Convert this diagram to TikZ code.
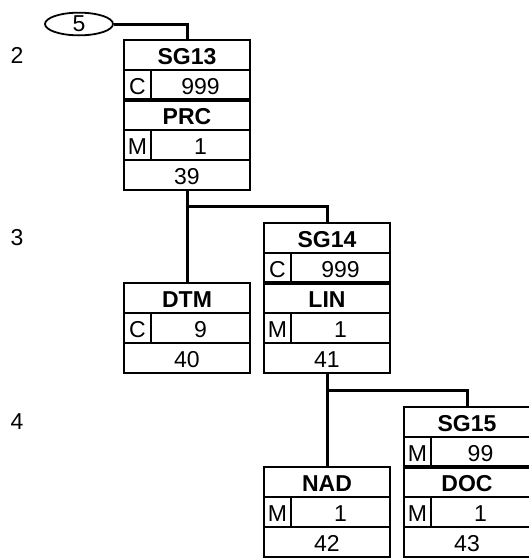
\documentclass[tikz,border=0pt]{standalone}
\usepackage{fontspec}
\setsansfont{Liberation Sans}
\usepackage{tikz}
\usetikzlibrary{positioning,shapes.geometric}
\tikzset{
    font=\sffamily\fontsize{23}{23}\selectfont,
    %Define style for the rows of a box
    zeile/.style={
           rectangle,
           draw=black, line width=2.4pt,
           minimum width=126pt,
           minimum height=30pt,
           text depth=0pt, text height=18pt,
           inner sep=0pt, outer sep=0pt},
    kopf/.style={zeile, font=\sffamily\bfseries\fontsize{23}{23}\selectfont},
    % cells of the status rows
    kenn/.style={zeile, minimum width=27pt},
    wert/.style={zeile, minimum width=99pt},
    % Define line styles
    linie/.style={line width=3pt},
    trenn/.style={line width=4pt},
    ebene/.style={inner sep=0pt},
    marke/.style={ellipse, draw=black, line width=1.8pt, minimum width=68pt, minimum height=18pt, inner sep=0pt}
}

\begin{document}
\begin{tikzpicture}[node distance=0pt]
  \useasboundingbox (0,0) rectangle (528pt,-560pt);
  % level 2
  \node[marke] (m5) at (79pt,-24pt) {5};
  \node[kopf] (sg13) at (187pt,-55pt) {SG13};
  \node[kenn] (sg13k) [below right=of sg13.south west] {C};
  \node[wert] (sg13w) [right=of sg13k] {999};
  \node[kopf] (prc) [below left=of sg13w.south east] {PRC};
  \node[kenn] (prck) [below right=of prc.south west] {M};
  \node[wert] (prcw) [right=of prck] {1};
  \node[zeile] (n39) [below left=of prcw.south east] {39};
  \draw[trenn] (prc.north west) -- (prc.north east);
  % level 3
  \node[kopf] (sg14) [below right=33pt and 14pt of n39.south east] {SG14};
  \node[kenn] (sg14k) [below right=of sg14.south west] {C};
  \node[wert] (sg14w) [right=of sg14k] {999};
  \node[kopf] (lin) [below left=of sg14w.south east] {LIN};
  \node[kenn] (link) [below right=of lin.south west] {M};
  \node[wert] (linw) [right=of link] {1};
  \node[zeile] (n41) [below left=of linw.south east] {41};
  \draw[trenn] (lin.north west) -- (lin.north east);
  \node[kopf] (dtm) [left=14pt of lin] {DTM};
  \node[kenn] (dtmk) [below right=of dtm.south west] {C};
  \node[wert] (dtmw) [right=of dtmk] {9};
  \node[zeile] (n40) [below left=of dtmw.south east] {40};
  % level 4
  \node[kopf] (sg15) [below right=34pt and 14pt of n41.south east] {SG15};
  \node[kenn] (sg15k) [below right=of sg15.south west] {M};
  \node[wert] (sg15w) [right=of sg15k] {99};
  \node[kopf] (doc) [below left=of sg15w.south east] {DOC};
  \node[kenn] (dock) [below right=of doc.south west] {M};
  \node[wert] (docw) [right=of dock] {1};
  \node[zeile] (n43) [below left=of docw.south east] {43};
  \draw[trenn] (doc.north west) -- (doc.north east);
  \node[kopf] (nad) [left=14pt of doc] {NAD};
  \node[kenn] (nadk) [below right=of nad.south west] {M};
  \node[wert] (nadw) [right=of nadk] {1};
  \node[zeile] (n42) [below left=of nadw.south east] {42};
  % level numbers
  \node[ebene] (e2) at (17pt,-55pt) {2};
  \node[ebene] (e3) at (e2 |- sg14) {3};
  \node[ebene] (e4) at (e2 |- sg15) {4};
  % connectors
  \coordinate (k3) at ([yshift=-16pt]n39.south);
  \coordinate (k4) at ([yshift=-17pt]n41.south);
  \draw[linie] (m5.east) -| (sg13.north);
  \draw[linie] (n39.south) -- (dtm.north);
  \draw[linie] (k3) -| (sg14.north);
  \draw[linie] (n41.south) -- (nad.north);
  \draw[linie] (k4) -| (sg15.north);
\end{tikzpicture}
\end{document}
